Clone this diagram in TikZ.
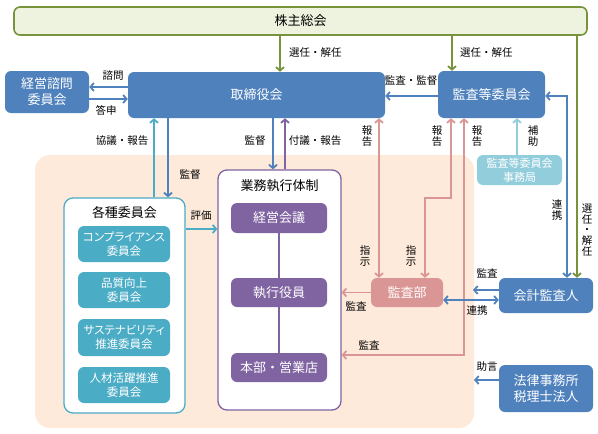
\documentclass[tikz,border=0pt]{standalone}
\usepackage{fontspec}
\setmainfont{Noto Sans CJK JP}
\usetikzlibrary{arrows.meta}
\definecolor{cblue}{HTML}{4F81BD}
\definecolor{cgreen}{HTML}{77933C}
\definecolor{cgreenfill}{HTML}{EEF3E0}
\definecolor{ccyan}{HTML}{4BACC6}
\definecolor{cpurple}{HTML}{8064A2}
\definecolor{cpink}{HTML}{DA9694}
\definecolor{clblue}{HTML}{92CDDC}
\definecolor{cpeach}{HTML}{FDEADA}
\tikzset{
  bx/.style={rounded corners=6pt, inner sep=0pt, align=center, text=white, font=\fontsize{13}{16}\selectfont},
  bluebox/.style={bx, fill=cblue},
  cyanbox/.style={bx, fill=ccyan, font=\fontsize{11.5}{14}\selectfont\addfontfeatures{RawFeature=+palt}},
  purplebox/.style={bx, fill=cpurple},
  pinkbox/.style={bx, fill=cpink},
  lbluebox/.style={bx, fill=clblue, font=\fontsize{11}{14}\selectfont},
  frame/.style={rounded corners=9pt, fill=white, line width=1.3pt, inner sep=0pt},
  arr/.style={line width=1.8pt, -{Straight Barb[length=3.5pt,width=8pt]}},
  darr/.style={line width=1.8pt, {Straight Barb[length=3.5pt,width=8pt]}-{Straight Barb[length=3.5pt,width=8pt]}},
  lbl/.style={inner sep=0pt, align=center, font=\fontsize{10.5}{10.8}\selectfont},
  ttl/.style={inner sep=0pt, font=\fontsize{13}{16}\selectfont},
}
\begin{document}
\begin{tikzpicture}[x=1pt,y=-1pt]
\useasboundingbox (0,0) rectangle (598,434);
% peach background
\fill[cpeach, rounded corners=15pt] (35,155) rectangle (474,428);

% nodes
\node[rounded corners=6pt, fill=cgreenfill, draw=cgreen, line width=1.6pt, minimum width=573pt, minimum height=28pt, inner sep=0pt, font=\fontsize{13}{16}\selectfont] (kabu) at (300.5,21) {株主総会};
\node[bluebox, minimum width=257pt, minimum height=46pt] (tori) at (256.5,95) {取締役会};
\node[bluebox, minimum width=84pt, minimum height=42pt] (keiei) at (47,92) {経営諮問\\委員会};
\node[bluebox, minimum width=107pt, minimum height=47pt] (kansa) at (491.5,94.5) {監査等委員会};
\node[lbluebox, minimum width=85pt, minimum height=30pt] (jimu) at (519.5,170) {監査等委員会\\事務局};

\node[frame, draw=ccyan, minimum width=121pt, minimum height=215pt] (kakushu) at (124.5,305.5) {};
\node[ttl] (kakushuT) at (124.5,213) {各種委員会};
\node[cyanbox, minimum width=92pt, minimum height=36pt] (s1) at (124,244) {コンプライアンス\\委員会};
\node[cyanbox, minimum width=92pt, minimum height=36pt] (s2) at (124,290) {品質向上\\委員会};
\node[cyanbox, minimum width=92pt, minimum height=37pt] (s3) at (124,337.5) {サステナビリティ\\推進委員会};
\node[cyanbox, minimum width=92pt, minimum height=36pt] (s4) at (124,385) {人材活躍推進\\委員会};

\node[frame, draw=cpurple, minimum width=123pt, minimum height=240pt] (gyomu) at (279.5,290) {};
\node[ttl] (gyomuT) at (279.5,186) {業務執行体制};
\node[purplebox, minimum width=96pt, minimum height=30pt] (p1) at (279,218) {経営会議};
\node[purplebox, minimum width=96pt, minimum height=29pt] (p2) at (279,292.5) {執行役員};
\node[purplebox, minimum width=96pt, minimum height=29pt] (p3) at (279,367.5) {本部・営業店};

\node[pinkbox, minimum width=72pt, minimum height=29pt] (kansabu) at (407,292.5) {監査部};
\node[bluebox, minimum width=94pt, minimum height=35pt] (kaikei) at (546,295.5) {会計監査人};
\node[bluebox, minimum width=94pt, minimum height=47pt] (houritsu) at (546,388.5) {法律事務所\\税理士法人};

% helper coordinates
\coordinate (g1) at (280,0);
\coordinate (g2) at (452,0);
\coordinate (g3) at (577,0);
\coordinate (b1) at (567,96);
\coordinate (c1) at (154,0);
\coordinate (c2) at (168,0);
\coordinate (c3) at (273,0);
\coordinate (c4) at (285,0);
\coordinate (r1) at (379,0);
\coordinate (r2a) at (451,198);
\coordinate (r2b) at (425,198);
\coordinate (r3) at (464,355);
\coordinate (hj) at (517,0);
\coordinate (y87) at (0,87);
\coordinate (y99) at (0,99);
\coordinate (y96) at (0,96);
\coordinate (y229) at (0,229);
\coordinate (kaE) at (473,290);
\coordinate (y300) at (0,300);
\coordinate (joE) at (474,380);

% green arrows
\draw[arr, cgreen] (kabu.south -| g1) -- (tori.north -| g1);
\draw[arr, cgreen] (kabu.south -| g2) -- (kansa.north -| g2);
\draw[arr, cgreen] (kabu.south -| g3) -- (kaikei.north -| g3);

% blue arrows top
\draw[arr, cblue] (tori.west |- y87) -- (keiei.east |- y87);
\draw[arr, cblue] (keiei.east |- y99) -- (tori.west |- y99);
\draw[arr, cblue] (kansa.west |- y96) -- (tori.east |- y96);
\draw[darr, cblue] (kaikei.north -| b1) -- (b1) -- (kansa.east |- b1);

% board to committees / execution
\draw[arr, ccyan] (kakushu.north -| c1) -- (tori.south -| c1);
\draw[arr, cblue] (tori.south -| c2) -- (kakushu.north -| c2);
\draw[arr, cblue] (tori.south -| c3) -- (gyomu.north -| c3);
\draw[arr, cpurple] (gyomu.north -| c4) -- (tori.south -| c4);
\draw[arr, ccyan] (kakushu.east |- y229) -- (gyomu.west |- y229);

% pink arrows
\draw[darr, cpink] (tori.south -| r1) -- (kansabu.north -| r1);
\draw[darr, cpink] (kansa.south -| r2a) -- (r2a) -- (r2b) -- (kansabu.north -| r2b);
\draw[darr, cpink] (kansa.south -| r3) -- (r3) -- (gyomu.east |- r3);
\draw[arr, cpink] (kansabu.west) -- (gyomu.east |- kansabu.west);

% others
\draw[arr, clblue] (jimu.north -| hj) -- (kansa.south -| hj);
\draw[arr, cblue] (kaikei.west |- kaE) -- (kaE);
\draw[darr, cblue] (kansabu.east |- y300) -- (kaikei.west |- y300);
\draw[arr, cblue] (houritsu.west |- joE) -- (joE);

% purple connectors
\draw[cpurple, line width=1.3pt] (p1.south) -- (p2.north);
\draw[cpurple, line width=1.3pt] (p2.south) -- (p3.north);

% labels
\node[lbl, anchor=west] (l1) at (289,53) {選任・解任};
\node[lbl, anchor=west] (l2) at (460,53) {選任・解任};
\node[lbl] (l3) at (587,230) {選\\任\\・\\解\\任};
\node[lbl] (l4) at (113,76) {諮問};
\node[lbl] (l5) at (106,110) {答申};
\node[lbl] (l6) at (411,81) {監査・監督};
\node[lbl] (l7) at (122,141) {協議・報告};
\node[lbl] (l8) at (190,175) {監督};
\node[lbl] (l9) at (255,141) {監督};
\node[lbl] (l10) at (315,141) {付議・報告};
\node[lbl] (l11) at (367,136) {報\\告};
\node[lbl] (l12) at (437,136) {報\\告};
\node[lbl] (l13) at (477,136) {報\\告};
\node[lbl] (l14) at (533,136) {補\\助};
\node[lbl] (l15) at (557,210) {連\\携};
\node[lbl] (l16) at (365,256) {指\\示};
\node[lbl] (l17) at (411,256) {指\\示};
\node[lbl] (l18) at (201,216) {評価};
\node[lbl] (l19) at (356,306) {監査};
\node[lbl] (l20) at (369,345) {監査};
\node[lbl] (l21) at (487,273) {監査};
\node[lbl] (l22) at (477,311) {連携};
\node[lbl] (l23) at (487,367) {助言};
\end{tikzpicture}
\end{document}
